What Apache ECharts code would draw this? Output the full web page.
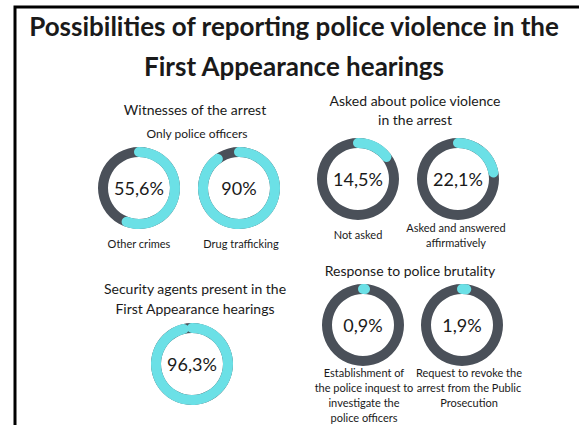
<!DOCTYPE html>
<html>
<head>
<meta charset="utf-8">
<script src="https://cdn.jsdelivr.net/npm/echarts@6/dist/echarts.min.js"></script>
<style>
  html, body { margin: 0; padding: 0; background: #ffffff; }
  #chart { width: 579px; height: 425px; }
</style>
</head>
<body>
<div id="chart"></div>
<script>
// ---- Data ----
const chartTitle = ['Possibilities of reporting police violence in the', 'First Appearance hearings'];
const groupTitles = [
  'Witnesses of the arrest',
  'Asked about police violence\nin the arrest',
  'Security agents present in the\nFirst Appearance hearings',
  'Response to police brutality'
];
const groupSubtitle = 'Only police officers';
const ringValues = [55.6, 90, 14.5, 22.1, 96.3, 0.9, 1.9];
const ringLabels = [
  'Other crimes',
  'Drug trafficking',
  'Not asked',
  'Asked and answered\naffirmatively',
  '',
  'Establishment of\nthe police inquest to\ninvestigate the\npolice officers',
  'Request to revoke the\narrest from the Public\nProsecution'
];

// ---- Layout / style ----
const CYAN = '#6be0e6';
const DARK = '#4a5059';
const FONT = 'Lato';
const ringCenters = [[139, 188], [239, 188], [358, 179], [458, 179], [192, 364], [363, 325], [462, 325]];
const labelPos = [[139, 243], [241, 243], [358, 234], [456, 227], [0, 0], [364, 372], [469, 372]];
const R = 41, W = 10;

const fmt = v => String(v).replace('.', ',') + '%';

const series = ringValues.map((v, i) => ({
  type: 'gauge',
  center: ringCenters[i],
  radius: R,
  startAngle: 90,
  endAngle: -270,
  min: 0,
  max: 100,
  pointer: { show: false },
  anchor: { show: false },
  axisTick: { show: false },
  splitLine: { show: false },
  axisLabel: { show: false },
  title: { show: false },
  axisLine: { lineStyle: { width: W, color: [[1, DARK]] } },
  progress: { show: true, roundCap: true, width: W, itemStyle: { color: CYAN } },
  detail: {
    show: true,
    offsetCenter: [0, 0],
    formatter: fmt,
    fontFamily: FONT,
    fontSize: 18,
    fontWeight: 'normal',
    color: '#1a1a1a',
    valueAnimation: false
  },
  data: [{ value: v }]
}));

const txt = (text, x, y, size, lh, weight) => ({
  type: 'text',
  x: x, y: y,
  style: {
    text: text,
    x: 0, y: 0,
    align: 'center',
    verticalAlign: 'middle',
    font: (weight || 'normal') + ' ' + size + 'px ' + FONT,
    lineHeight: lh,
    fill: '#1a1a1a'
  }
});

const graphics = [
  { type: 'polyline', shape: { points: [[15, 430], [15, 7], [585, 7]] }, style: { stroke: '#000', lineWidth: 3, fill: null } },
  txt(chartTitle[0], 294, 26, 26, 40, 'bold'),
  txt(chartTitle[1], 294, 66, 26, 40, 'bold'),
  txt(groupTitles[0], 195, 109, 14, 19),
  txt(groupSubtitle, 197, 133, 12, 15),
  txt(groupTitles[1], 415, 109.5, 14, 19),
  txt(groupTitles[2], 195, 298, 14, 20),
  txt(groupTitles[3], 410, 270, 14, 19)
];
ringLabels.forEach((l, i) => {
  if (!l) return;
  const lines = l.split('\n').length;
  const lh = 15;
  graphics.push(txt(l, labelPos[i][0], labelPos[i][1] + (lines - 1) * lh / 2, 11, lh));
});

const chart = echarts.init(document.getElementById('chart'), null, { renderer: 'svg' });
chart.setOption({
  animation: false,
  backgroundColor: '#ffffff',
  series: series,
  graphic: graphics
});
</script>
</body>
</html>
